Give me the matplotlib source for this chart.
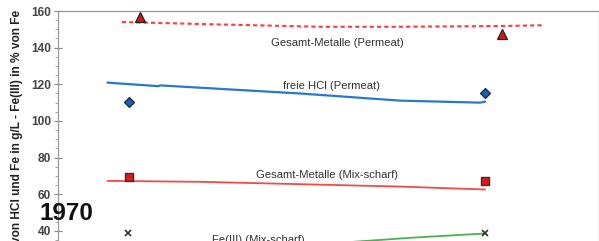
import matplotlib.pyplot as plt
from matplotlib.ticker import MultipleLocator

plt.rcParams['font.family'] = ['Liberation Sans', 'DejaVu Sans']

# values (x in arbitrary run units, y in g/L resp. %)
metalle_perm_x = [11.8, 26.3, 48.4, 63.2, 81.7, 89.5]
metalle_perm_y = [154.0, 152.9, 151.4, 151.4, 151.8, 152.2]
metalle_perm_pts_x = [15.2, 82.1]
metalle_perm_pts_y = [156.5, 147.5]

hcl_perm_x = [9.2, 18.5, 18.9, 44.7, 63.2, 78.0, 78.9]
hcl_perm_y = [120.9, 119.0, 119.4, 115.0, 111.1, 110.0, 110.5]
hcl_perm_pts_x = [13.2, 78.9]
hcl_perm_pts_y = [110.5, 115.1]

metalle_mix_x = [9.2, 26.3, 63.2, 78.9]
metalle_mix_y = [67.3, 66.8, 64.2, 62.6]
metalle_mix_pts_x = [13.2, 78.9]
metalle_mix_pts_y = [69.6, 67.3]

fe3_mix_x = [9.2, 44.7, 65.4, 78.9]
fe3_mix_y = [25.0, 32.0, 36.3, 38.6]
fe3_mix_pts_x = [13.0, 78.9]
fe3_mix_pts_y = [38.6, 38.6]

fig = plt.figure(figsize=(5.99, 2.41), dpi=100)
ax = fig.add_axes([58 / 599, 0, 541 / 599, 230 / 241])

# curves
ax.plot(metalle_perm_x, metalle_perm_y, color='#ff3b3b', lw=1.5, ls=(0, (2, 1.5)))
ax.plot(hcl_perm_x, hcl_perm_y, color='#2a78cc', lw=1.6)
ax.plot(metalle_mix_x, metalle_mix_y, color='#f04a4a', lw=1.3)
ax.plot(fe3_mix_x, fe3_mix_y, color='#4caf50', lw=1.3)

# measured points
ax.plot(metalle_perm_pts_x, metalle_perm_pts_y, ls='none', marker='^', ms=7,
        mfc='#d01818', mec='#222222', mew=0.9)
ax.plot(hcl_perm_pts_x, hcl_perm_pts_y, ls='none', marker='D', ms=5,
        mfc='#1a5fa8', mec='#102a48', mew=0.9)
ax.plot(metalle_mix_pts_x, metalle_mix_pts_y, ls='none', marker='s', ms=5.5,
        mfc='#e01818', mec='#333333', mew=1.0)
ax.plot(fe3_mix_pts_x, fe3_mix_pts_y, ls='none', marker='x', ms=5,
        mec='#333333', mew=1.2)

# curve labels
lab = dict(fontsize=8.1, color='#333333', va='center')
ax.text(51.6, 142.5, 'Gesamt-Metalle (Permeat)', ha='center', **lab)
ax.text(50.5, 119.1, 'freie HCl (Permeat)', ha='center', **lab)
ax.text(49.7, 70.5, 'Gesamt-Metalle (Mix-scharf)', ha='center', **lab)
ax.text(28.5, 35.0, 'Fe(III) (Mix-scharf)', ha='left', **lab)

ax.set_xlim(0, 100)
ax.set_ylim(34.5, 160)
ax.yaxis.set_major_locator(MultipleLocator(20))
ax.yaxis.set_minor_locator(MultipleLocator(5))
ax.set_xticks([])
ax.tick_params(axis='y', which='major', direction='inout', length=6, width=0.8,
               color='#888888', labelsize=8.6, labelcolor='#444444', pad=2)
ax.tick_params(axis='y', which='minor', direction='out', length=2.5, width=0.6,
               color='#999999')
for t in ax.get_yticklabels():
    t.set_fontweight('bold')

ax.spines['bottom'].set_visible(False)
for s in ['left', 'top', 'right']:
    ax.spines[s].set_color('#999999')
    ax.spines[s].set_linewidth(0.9)

fig.text(17 / 599, 1 - 10 / 241,
         'Konzentration von HCl und Fe in g/L - Fe(III) in % von Fe',
         rotation=90, ha='center', va='top', fontsize=8.6,
         fontweight='bold', color='#222222')

fig.text(66 / 599, 1 - 213 / 241, '1970', ha='center', va='center',
         fontsize=17.5, fontweight='bold', color='#111111')

fig.savefig('out.png', dpi=100)
